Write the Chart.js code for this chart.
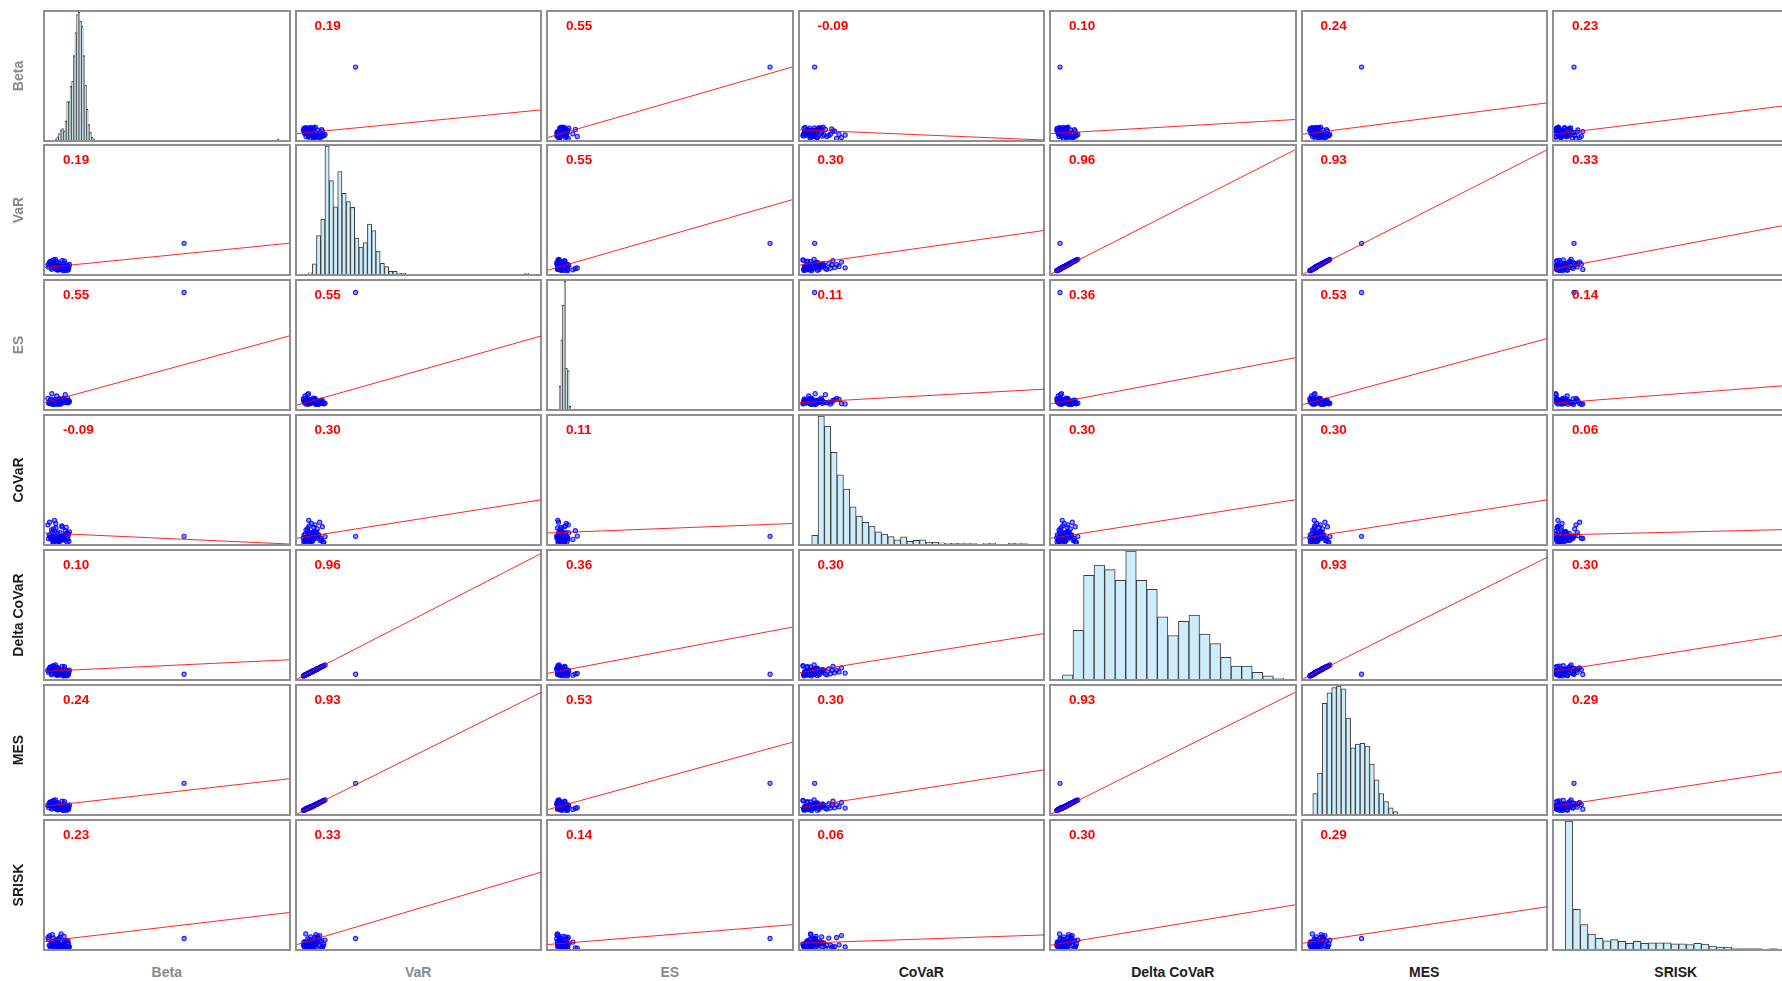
<!DOCTYPE html>
<html>
<head>
<meta charset="utf-8">
<script src="https://cdn.jsdelivr.net/npm/chart.js@4.4.1/dist/chart.umd.min.js"></script>
<style>
html, body { margin:0; padding:0; background:#fff; overflow:hidden; width:1782px; height:981px; }
#grid { position:relative; width:1782px; height:981px; font-family:"Liberation Sans", Arial, Helvetica, sans-serif; }
.panel { position:absolute; box-sizing:border-box; border:2px solid #8f8f8f; background:#fff; }
.panel canvas { display:block; }
.corr { position:absolute; left:18px; top:7px; color:#ff0000; font-weight:bold; font-size:13.5px; line-height:14px; }
.lab { position:absolute; font-weight:bold; font-size:14px; white-space:nowrap; }
</style>
</head>
<body>
<div id="grid"></div>
<script>
// variable names, grey ones first
const names = ['Beta', 'VaR', 'ES', 'CoVaR', 'Delta CoVaR', 'MES', 'SRISK'];
const labelGrey = [true, true, true, false, false, false, false];

// observations, scaled to each panel's range (0..1); last one is the outlier
const beta = [0.072,0.031,0.058,0.094,0.045,0.022,0.081,0.063,0.012,0.050,
  0.036,0.088,0.067,0.027,0.055,0.098,0.041,0.074,0.019,0.060,
  0.085,0.033,0.047,0.070,0.015,0.092,0.053,0.078,0.039,0.025,
  0.065,0.083,0.043,0.057,0.096,0.030,0.069,0.049,0.017,0.076,
  0.035,0.061,0.090,0.052,0.028,0.080,0.044,0.066,0.100,0.038,
  0.021,0.059,0.087,0.048,0.073,0.032,0.062,0.093,0.054,0.040, 0.57];
const varr = [0.052,0.081,0.034,0.067,0.045,0.098,0.029,0.058,0.074,0.041,
  0.110,0.049,0.063,0.037,0.088,0.055,0.070,0.026,0.093,0.046,
  0.060,0.079,0.039,0.104,0.053,0.066,0.031,0.085,0.048,0.072,
  0.057,0.043,0.115,0.062,0.035,0.077,0.050,0.095,0.068,0.040,
  0.083,0.054,0.028,0.064,0.047,0.101,0.059,0.036,0.075,0.051,
  0.090,0.044,0.069,0.033,0.061,0.107,0.056,0.042,0.080,0.065, 0.24];
const es = [0.061,0.044,0.078,0.052,0.039,0.070,0.056,0.047,0.083,0.064,
  0.041,0.058,0.074,0.049,0.036,0.066,0.053,0.080,0.043,0.060,
  0.072,0.038,0.055,0.068,0.046,0.085,0.050,0.062,0.040,0.076,
  0.057,0.112,0.045,0.065,0.051,0.037,0.071,0.059,0.048,0.081,
  0.054,0.042,0.067,0.063,0.120,0.050,0.075,0.039,0.057,0.069,
  0.046,0.079,0.053,0.102,0.061,0.044,0.073,0.048,0.066,0.055, 0.91];
const covar = [0.035,0.092,0.018,0.060,0.125,0.044,0.071,0.026,0.150,0.053,
  0.012,0.082,0.039,0.110,0.064,0.021,0.098,0.047,0.170,0.030,
  0.075,0.056,0.015,0.135,0.041,0.087,0.024,0.066,0.185,0.050,
  0.033,0.104,0.058,0.019,0.078,0.045,0.142,0.028,0.069,0.037,
  0.118,0.052,0.016,0.085,0.062,0.031,0.160,0.043,0.095,0.023,
  0.072,0.049,0.130,0.036,0.058,0.014,0.089,0.040,0.068,0.027, 0.06];
const deltaCovar = [0.050,0.075,0.034,0.064,0.041,0.094,0.026,0.056,0.069,0.040,
  0.104,0.045,0.061,0.033,0.085,0.051,0.067,0.024,0.087,0.044,
  0.056,0.076,0.035,0.099,0.050,0.061,0.030,0.080,0.046,0.068,
  0.055,0.039,0.110,0.058,0.034,0.072,0.048,0.091,0.063,0.037,
  0.079,0.050,0.025,0.061,0.043,0.096,0.055,0.035,0.070,0.049,
  0.085,0.041,0.066,0.030,0.058,0.101,0.052,0.040,0.076,0.061, 0.037];
const mes = [0.049,0.078,0.036,0.063,0.047,0.094,0.030,0.055,0.071,0.043,
  0.106,0.051,0.060,0.039,0.084,0.053,0.068,0.028,0.090,0.044,
  0.058,0.075,0.041,0.100,0.050,0.064,0.033,0.081,0.046,0.070,
  0.054,0.045,0.110,0.059,0.037,0.074,0.048,0.091,0.066,0.042,
  0.080,0.052,0.030,0.061,0.049,0.097,0.056,0.038,0.072,0.053,
  0.086,0.046,0.066,0.035,0.059,0.103,0.054,0.044,0.077,0.062, 0.24];
const srisk = [0.020,0.045,0.012,0.068,0.030,0.008,0.055,0.025,0.090,0.015,
  0.038,0.062,0.010,0.028,0.080,0.018,0.048,0.035,0.105,0.022,
  0.006,0.058,0.032,0.014,0.075,0.042,0.026,0.098,0.016,0.052,
  0.034,0.009,0.070,0.024,0.044,0.112,0.019,0.060,0.029,0.012,
  0.085,0.040,0.021,0.050,0.007,0.065,0.033,0.118,0.017,0.046,
  0.027,0.078,0.013,0.054,0.037,0.023,0.095,0.011,0.041,0.031, 0.082];
const series = [beta, varr, es, covar, deltaCovar, mes, srisk];

// correlations shown in the panels
const corr = [
  [null, 0.19, 0.55, -0.09, 0.10, 0.24, 0.23],
  [0.19, null, 0.55, 0.30, 0.96, 0.93, 0.33],
  [0.55, 0.55, null, 0.11, 0.36, 0.53, 0.14],
  [-0.09, 0.30, 0.11, null, 0.30, 0.30, 0.06],
  [0.10, 0.96, 0.36, 0.30, null, 0.93, 0.30],
  [0.24, 0.93, 0.53, 0.30, 0.93, null, 0.29],
  [0.23, 0.33, 0.14, 0.06, 0.30, 0.29, null]
];

// fitted line value at left and right edge of each panel
const lineLeft = [
  [null, 0.05, 0.02, 0.08, 0.05, 0.045, 0.045],
  [0.05, null, 0.03, 0.07, 0.0, 0.0, 0.04],
  [0.05, 0.03, null, 0.05, 0.04, 0.035, 0.045],
  [0.086, 0.045, 0.086, null, 0.045, 0.045, 0.07],
  [0.06, 0.0, 0.045, 0.05, null, 0.0, 0.06],
  [0.06, 0.0, 0.035, 0.05, 0.0, null, 0.06],
  [0.06, 0.035, 0.035, 0.045, 0.03, 0.045, null]
];
const lineRight = [
  [null, 0.235, 0.57, 0.0, 0.16, 0.29, 0.28],
  [0.24, null, 0.58, 0.34, 0.97, 0.97, 0.40],
  [0.57, 0.57, null, 0.155, 0.40, 0.55, 0.19],
  [0.0, 0.345, 0.16, null, 0.345, 0.345, 0.115],
  [0.15, 0.98, 0.405, 0.355, null, 0.95, 0.36],
  [0.275, 0.95, 0.56, 0.345, 0.95, null, 0.35],
  [0.285, 0.60, 0.19, 0.11, 0.345, 0.33, null]
];

// histograms on the diagonal
const histStart = [0.042, 0.045, 0.046, 0.048, 0.047, 0.040, 0.046];
const histWidth = [0.00673, 0.0174, 0.0067, 0.026, 0.0432, 0.0194, 0.031];
const histCounts = [
  [1, 2.5, 5, 8, 9, 7, 15, 30, 30, 42, 46, 66, 84, 98, 100, 93, 89, 66, 43, 24, 12, 6, 2, 1],
  [1, 8, 30, 43, 100, 73, 52.5, 80, 63, 56.5, 52, 28, 21, 24.6, 39, 34, 18, 8.3, 5.8, 2, 2, 0.8, 0.5],
  [18, 54, 81, 100, 32, 30, 2],
  [6.8, 100, 92, 71.6, 54, 43, 29, 21.8, 17, 14, 9.6, 7.8, 5.8, 3.3, 5.6, 2, 2.8, 3.3, 1.3, 1.3, 1, 0.5, 0.5, 0.3, 0.5, 0.3, 0, 0.5, 0.5, 0, 0, 0.5, 0.5, 0.3],
  [3.3, 38, 81, 89, 85.5, 77, 100, 77, 70, 48.5, 34, 45, 50, 35, 27.6, 17, 10, 10, 5.3, 2.5, 0.8],
  [16, 32, 86.5, 94.7, 98.7, 100, 97.7, 75, 51.6, 54.7, 55.2, 53, 39, 26.7, 16, 9.8, 4.8, 1.8],
  [100, 31, 19, 11.6, 8.3, 6.3, 7.3, 6, 4.5, 6, 4.5, 4.8, 4.8, 4.8, 4, 4, 3.5, 4.5, 3.8, 2.3, 1.3, 1.3, 0.3, 0.3, 0.3, 0.3, 0, 0.3]
];
// lone bins far to the right: [bin index, count]
const histTail = [[[135, 0.8]], [[51, 0.5]], [], [], [], [], []];

// layout
const X0 = 43, Y0 = 9.5, PX = 251.5, PY = 134.9, W = 247.5, H = 132;
const grid = document.getElementById('grid');

const baseOpts = () => ({
  animation: false,
  responsive: false,
  events: [],
  layout: { padding: 0, autoPadding: false },
  plugins: { legend: { display: false }, tooltip: { enabled: false } },
});

function histChart(cv, i) {
  const pts = histCounts[i].map((c, k) => ({ x: histStart[i] + (k + 0.5) * histWidth[i], y: c }));
  histTail[i].forEach(t => pts.push({ x: histStart[i] + (t[0] + 0.5) * histWidth[i], y: t[1] }));
  const opts = baseOpts();
  opts.scales = {
    x: { type: 'linear', min: 0, max: 1, offset: false, display: false },
    y: { min: 0, max: Math.max(...histCounts[i]), display: false }
  };
  new Chart(cv, {
    type: 'bar',
    data: { datasets: [{
      data: pts,
      backgroundColor: '#cdedfa',
      borderColor: '#3c3c3c',
      borderWidth: 1,
      barPercentage: 1,
      categoryPercentage: 1
    }] },
    options: opts
  });
}

function scatterChart(cv, i, j) {
  const xs = series[j], ys = series[i];
  const opts = baseOpts();
  opts.scales = {
    x: { type: 'linear', min: 0, max: 1, display: false },
    y: { type: 'linear', min: 0, max: 1, display: false }
  };
  new Chart(cv, {
    type: 'scatter',
    data: { datasets: [
      {
        data: [{ x: 0, y: lineLeft[i][j] }, { x: 1, y: lineRight[i][j] }],
        showLine: true,
        borderColor: 'rgba(255,0,0,0.85)',
        borderWidth: 1,
        pointRadius: 0,
        order: 0
      },
      {
        data: xs.map((x, k) => ({ x: x, y: ys[k] })),
        pointRadius: 2.1,
        pointBorderWidth: 1.1,
        borderColor: 'rgba(0,0,255,0.85)',
        backgroundColor: 'rgba(0,0,255,0.4)',
        order: 1
      }
    ] },
    options: opts
  });
}

for (let i = 0; i < 7; i++) {
  for (let j = 0; j < 7; j++) {
    const div = document.createElement('div');
    div.className = 'panel';
    div.style.left = (X0 + PX * j) + 'px';
    div.style.top = (Y0 + PY * i) + 'px';
    div.style.width = W + 'px';
    div.style.height = H + 'px';
    const cv = document.createElement('canvas');
    cv.width = Math.round(W - 4);
    cv.height = Math.round(H - 4);
    div.appendChild(cv);
    grid.appendChild(div);
    if (i === j) {
      histChart(cv, i);
    } else {
      scatterChart(cv, i, j);
      const t = document.createElement('div');
      t.className = 'corr';
      t.textContent = corr[i][j].toFixed(2);
      div.appendChild(t);
    }
  }
}

// axis labels
names.forEach((n, k) => {
  const col = labelGrey[k] ? '#8a8a8a' : '#1c1c1c';
  const r = document.createElement('div');
  r.className = 'lab';
  r.textContent = n;
  r.style.color = col;
  r.style.left = '18px';
  r.style.top = (Y0 + PY * k + H / 2) + 'px';
  r.style.transform = 'translate(-50%, -50%) rotate(-90deg)';
  grid.appendChild(r);
  const c = document.createElement('div');
  c.className = 'lab';
  c.textContent = n;
  c.style.color = col;
  c.style.left = (X0 + PX * k + W / 2) + 'px';
  c.style.top = '972px';
  c.style.transform = 'translate(-50%, -50%)';
  grid.appendChild(c);
});
</script>
</body>
</html>
